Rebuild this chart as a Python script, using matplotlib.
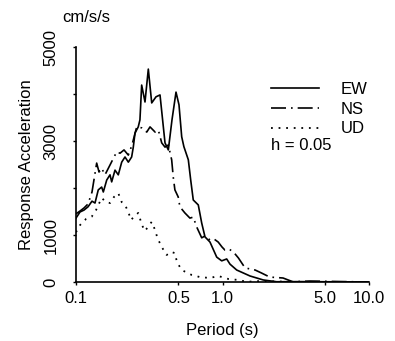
import matplotlib
matplotlib.use("Agg")
import matplotlib.pyplot as plt

plt.rcParams['font.family'] = ['Liberation Sans', 'DejaVu Sans']

# ---- data (period in s, response acceleration in cm/s/s) ----
ew_period = [0.100, 0.1065, 0.1134, 0.1208, 0.1286, 0.1348, 0.1419, 0.1497, 0.1536, 0.1621,
             0.1707, 0.1752, 0.1846, 0.1944, 0.2051, 0.2160, 0.2276, 0.2398, 0.2461, 0.2528,
             0.2660, 0.2732, 0.2807, 0.2958, 0.3116, 0.3287, 0.3516, 0.3745, 0.4051, 0.4268,
             0.4521, 0.4815, 0.5047, 0.5266, 0.545, 0.5844, 0.6067, 0.6316, 0.6834, 0.7211,
             0.7595, 0.8214, 0.9129, 0.9875, 1.068, 1.125, 1.25, 1.541, 1.899, 2.344,
             3.37, 10.0]
ew_acc = [1360, 1490, 1530, 1600, 1720, 1680, 1960, 2020, 1915, 2170,
          2280, 2130, 2380, 2280, 2550, 2660, 2550, 2660, 2870, 3170,
          3300, 3450, 4190, 3830, 4530, 3810, 3940, 3980, 2960, 2810,
          3450, 4040, 3770, 3090, 2880, 2600, 2170, 1745, 1640, 1255,
          960, 850, 530, 450, 490, 380, 255, 128, 43, 5,
          8, 0]

ns_period = [0.100, 0.1065, 0.1134, 0.1208, 0.1286, 0.1384, 0.1436, 0.1497, 0.1577, 0.1707,
             0.1896, 0.1997, 0.2127, 0.2276, 0.2411, 0.2597, 0.2807, 0.3040, 0.3201, 0.3467,
             0.3650, 0.3847, 0.4051, 0.4268, 0.4498, 0.4612, 0.4732, 0.4985, 0.5118, 0.5534,
             0.5991, 0.6316, 0.6668, 0.7211, 0.7595, 0.8214, 0.8748, 0.9347, 0.992, 1.0385,
             1.108, 1.1866, 1.285, 1.425, 1.67, 1.85, 2.10, 2.59, 3.02, 3.95,
             10.0]
ns_acc = [1450, 1510, 1575, 1660, 1915, 2530, 2340, 2420, 2280, 2490,
          2770, 2740, 2810, 2700, 2915, 3300, 3280, 3190, 3300, 3190,
          3230, 2960, 2870, 2915, 2600, 2230, 1960, 1810, 1600, 1470,
          1360, 1380, 1170, 940, 980, 894, 915, 850, 745, 680,
          700, 640, 510, 300, 255, 190, 105, 85, 5, 20,
          0]

ud_period = [0.100, 0.1065, 0.117, 0.128, 0.137, 0.1497, 0.160, 0.1707, 0.1817, 0.1944,
             0.2051, 0.2160, 0.2276, 0.2373, 0.2507, 0.2660, 0.2821, 0.2958, 0.3127, 0.3287,
             0.3467, 0.3593, 0.3847, 0.4159, 0.4454, 0.4732, 0.4887, 0.5266, 0.6158, 0.7012,
             0.8214, 0.9347, 1.0977, 1.285, 1.46, 1.80, 3.37, 10.0]
ud_acc = [1060, 1210, 1340, 1390, 1530, 1790, 1700, 1680, 1810, 1890,
          1700, 1640, 1490, 1320, 1400, 1470, 1210, 1085, 1190, 1280,
          1105, 940, 745, 575, 640, 615, 425, 255, 150, 105,
          85, 128, 64, 43, 5, 20, 0, 0]

series_labels = ["EW", "NS", "UD"]
x_ticks = [0.1, 0.5, 1.0, 5.0, 10.0]
x_tick_labels = ["0.1", "0.5", "1.0", "5.0", "10.0"]
y_ticks = [0, 1000, 2000, 3000, 4000, 5000]
y_tick_labels = ["0", "1000", "", "3000", "", "5000"]

W, H = 395, 341
fig = plt.figure(figsize=(W / 100, H / 100), dpi=100)
L, R, T, B = 76, 369, 47, 282
ax = fig.add_axes([L / W, 1 - B / H, (R - L) / W, (B - T) / H])

lw = 1.2
ax.plot(ew_period, ew_acc, color="black", lw=lw, linestyle="-", label=series_labels[0])
ax.plot(ns_period, ns_acc, color="black", lw=lw, linestyle=(0, (9, 3, 1, 3)), label=series_labels[1])
ax.plot(ud_period, ud_acc, color="black", lw=1.3, linestyle=(0, (1, 3.2)), label=series_labels[2])

ax.set_xscale("log")
ax.set_xlim(0.1, 10.0)
ax.set_ylim(0, 5000)
ax.set_xticks(x_ticks)
ax.set_xticklabels(x_tick_labels)
ax.xaxis.set_minor_locator(matplotlib.ticker.NullLocator())
ax.set_yticks(y_ticks)
ax.set_yticklabels(y_tick_labels, rotation=90, va="center")

for s in ["top", "right"]:
    ax.spines[s].set_visible(False)
for s in ["left", "bottom"]:
    ax.spines[s].set_linewidth(1.2)

ax.tick_params(axis="both", direction="out", length=2.5, width=1.0, labelsize=12)
ax.tick_params(axis="x", pad=4)
ax.tick_params(axis="y", pad=10)

ax.set_xlabel("Period (s)", fontsize=12, labelpad=12)
ax.set_ylabel("Response Acceleration", fontsize=12, labelpad=7)

fig.text(86 / W, 1 - 18 / H, "cm/s/s", fontsize=12, ha="center", va="center")

leg = ax.legend(loc="upper left", bbox_to_anchor=(271 / W, 1 - 82 / H),
                bbox_transform=fig.transFigure, frameon=False, fontsize=12,
                handlelength=2.9, handletextpad=1.3, labelspacing=0.28,
                borderpad=0, borderaxespad=0)
fig.text(271 / W, 1 - 145 / H, "h = 0.05", fontsize=12, ha="left", va="center")

fig.savefig("out.png", dpi=100)
